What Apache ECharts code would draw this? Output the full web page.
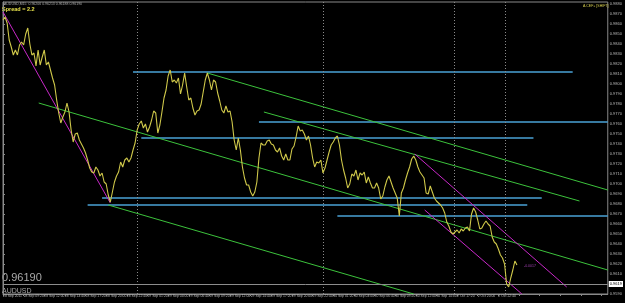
<!DOCTYPE html>
<html><head><meta charset="utf-8">
<script src="https://cdn.jsdelivr.net/npm/echarts@6/dist/echarts.min.js"></script>
<style>html,body{margin:0;padding:0;background:#000}#c{width:625px;height:303px}</style>
</head><body><div id="c"></div>
<script>
// Time axis labels (one every 10 M15 bars)
const timeLabels = ["28 Sep 2011","28 Sep 09:20","28 Sep 12:00","28 Sep 14:40","28 Sep 17:20","28 Sep 20:00","28 Sep 22:40",
  "29 Sep 01:20","29 Sep 04:00","29 Sep 06:40","29 Sep 09:20","29 Sep 12:00","29 Sep 14:40","29 Sep 17:20","29 Sep 20:00","29 Sep 22:40",
  "30 Sep 01:20","30 Sep 04:00","30 Sep 06:40","30 Sep 09:20","30 Sep 12:00","30 Sep 14:40",
  "2 Oct 17:20","2 Oct 20:00","2 Oct 22:40"];

// AUDUSD close prices, one per bar
const closePrices = [
0.9864,0.9867,0.9861,0.9844,0.9837,0.9829,0.9834,0.9829,0.9839,0.9842,
0.9839,0.9850,0.9856,0.9840,0.9829,0.9831,0.9818,0.9834,0.9819,0.9827,
0.9834,0.9819,0.9822,0.9814,0.9806,0.9799,0.9784,0.9771,0.9761,0.9767,
0.9772,0.9781,0.9772,0.9754,0.9742,0.9750,0.9751,0.9744,0.9740,0.9736,
0.9731,0.9724,0.9716,0.9712,0.9711,0.9717,0.9714,0.9708,0.9711,0.9702,
0.9700,0.9689,0.9682,0.9692,0.9702,0.9708,0.9712,0.9722,0.9717,0.9724,
0.9726,0.9722,0.9726,0.9734,0.9741,0.9754,0.9760,0.9763,0.9756,0.9760,
0.9752,0.9757,0.9764,0.9773,0.9771,0.9751,0.9759,0.9772,0.9786,0.9794,
0.9808,0.9814,0.9802,0.9804,0.9801,0.9806,0.9790,0.9799,0.9811,0.9797,
0.9784,0.9786,0.9776,0.9769,0.9773,0.9774,0.9780,0.9792,0.9804,0.9811,
0.9804,0.9794,0.9804,0.9802,0.9791,0.9783,0.9774,0.9771,0.9778,0.9772,
0.9773,0.9762,0.9744,0.9734,0.9746,0.9734,0.9717,0.9706,0.9699,0.9699,
0.9692,0.9688,0.9692,0.9702,0.9726,0.9741,0.9739,0.9739,0.9743,0.9744,
0.9740,0.9739,0.9734,0.9732,0.9736,0.9728,0.9724,0.9730,0.9724,0.9724,
0.9735,0.9738,0.9747,0.9758,0.9753,0.9754,0.9750,0.9744,0.9748,0.9739,
0.9726,0.9717,0.9722,0.9721,0.9724,0.9711,0.9716,0.9724,0.9732,0.9739,
0.9742,0.9746,0.9748,0.9739,0.9724,0.9714,0.9706,0.9696,0.9700,0.9710,
0.9708,0.9714,0.9704,0.9711,0.9709,0.9712,0.9701,0.9707,0.9701,0.9696,
0.9696,0.9701,0.9696,0.9685,0.9688,0.9697,0.9704,0.9708,0.9702,0.9696,
0.9691,0.9686,0.9668,0.9691,0.9696,0.9704,0.9711,0.9717,0.9725,0.9728,
0.9724,0.9717,0.9712,0.9709,0.9706,0.9691,0.9690,0.9698,0.9692,0.9686,
0.9683,0.9681,0.9679,0.9676,0.9671,0.9662,0.9658,0.9652,0.9650,0.9652,
0.9654,0.9651,0.9655,0.9653,0.9656,0.9657,0.9653,0.9670,0.9676,0.9672,
0.9664,0.9655,0.9656,0.9660,0.9663,0.9660,0.9658,0.9647,0.9642,0.9640,
0.9635,0.9629,0.9626,0.9620,0.9600,0.9597,0.9606,0.9614,0.9623,0.9619];

// Horizontal levels: [price, fromBar, toBar]
const blueLevels = [[0.9812,63,276],[0.9762,124,293],[0.9746,67,257],[0.9686,48,261],[0.9679,41,254],[0.9668,162,293]];
// Trend lines: [bar1, price1, bar2, price2]
const greenTrends = [[17.3,0.9781,293,0.9614],[99,0.9811,293,0.9694],[126.4,0.9772,279.3,0.9683],[51,0.9679,199,0.9590]];
const magentaTrends = [[0,0.9872,52,0.9681],[199.5,0.9730,273.1,0.9597],[204.3,0.9674,251.4,0.9590]];
const daySeparators = [64.9,155.3,218.8,243.3];
const bidPrice = 0.9619;
const priceMin = 0.9590, priceMax = 0.9882, priceStep = 0.001;
const barsOnScreen = 293;

const chart = echarts.init(document.getElementById('c'), null, {renderer:'canvas'});
const font = 'Liberation Sans, Arial, sans-serif';
const series = [];
series.push({
  type:'line', data: closePrices.map((p,i)=>[i,p]), showSymbol:false, silent:true, z:5,
  lineStyle:{color:'#cfc84a', width:1.1},
  markLine:{
    symbol:'none', silent:true, animation:false,
    data:[
      ...daySeparators.map(v=>({xAxis:v, lineStyle:{color:'#8a8a8a', type:[1,2], width:1}, label:{show:false}})),
      {yAxis:bidPrice, lineStyle:{color:'#8c8c8c', type:'solid', width:1},
       label:{show:true, position:'end', distance:1, formatter:bidPrice.toFixed(4), color:'#000', backgroundColor:'#fff', fontSize:4, fontFamily:font, padding:[1,1]}}
    ]
  }
});
blueLevels.forEach(l=>series.push({type:'line', data:[[l[1],l[0]],[l[2],l[0]]], showSymbol:false, silent:true, z:3, lineStyle:{color:'#4aa2d6', width:1.3}}));
greenTrends.forEach(t=>series.push({type:'line', data:[[t[0],t[1]],[t[2],t[3]]], showSymbol:false, silent:true, z:3, lineStyle:{color:'#3cc23c', width:1}}));
magentaTrends.forEach(t=>series.push({type:'line', data:[[t[0],t[1]],[t[2],t[3]]], showSymbol:false, silent:true, z:4, lineStyle:{color:'#c828c8', width:1}}));

chart.setOption({
  backgroundColor:'#000',
  animation:false,
  grid:{left:2, top:2, right:14, bottom:9, show:true, borderColor:'#8a8a8a', borderWidth:1, backgroundColor:'#000'},
  xAxis:{type:'value', min:0, max:barsOnScreen, interval:10,
    axisLine:{show:true, lineStyle:{color:'#8a8a8a'}}, axisTick:{show:true, length:2, lineStyle:{color:'#8a8a8a'}},
    splitLine:{show:false},
    axisLabel:{color:'#bbb', fontSize:3.4, fontFamily:font, margin:1, align:'left', showMaxLabel:false,
      formatter:v=> (v%10===0 && timeLabels[v/10]) ? timeLabels[v/10] : ''}},
  yAxis:{type:'value', position:'right', min:priceMin, max:priceMax, interval:priceStep,
    axisLine:{show:true, lineStyle:{color:'#8a8a8a'}}, axisTick:{show:true, length:2, lineStyle:{color:'#8a8a8a'}},
    splitLine:{show:false},
    axisLabel:{color:'#bbb', fontSize:4, fontFamily:font, margin:2, showMaxLabel:false, formatter:v=>v.toFixed(4)}},
  graphic:[
    {type:'text', left:4, top:2, style:{text:'AUDUSD,M15  0.96206 0.96213 0.96188 0.96190', fill:'#aaa', font:'3.5px '+font}},
    {type:'text', left:2, top:6, style:{text:'Spread = 2.2', fill:'#e6e04a', font:'bold 5.5px '+font}},
    {type:'text', left:583, top:4, style:{text:'A.CEF+ [SHIFT]', fill:'#d8d050', font:'3.5px '+font}},
    {type:'text', left:2, top:272, style:{text:'0.96190', fill:'#a8a8a8', font:'11px '+font}},
    {type:'text', left:2, top:288, style:{text:'AUDUSD', fill:'#a8a8a8', font:'7px '+font}},
    {type:'text', left:524, top:264, style:{text:'-0.0017', fill:'#a040b0', font:'3.5px '+font}}
  ],
  series
});
</script></body></html>
